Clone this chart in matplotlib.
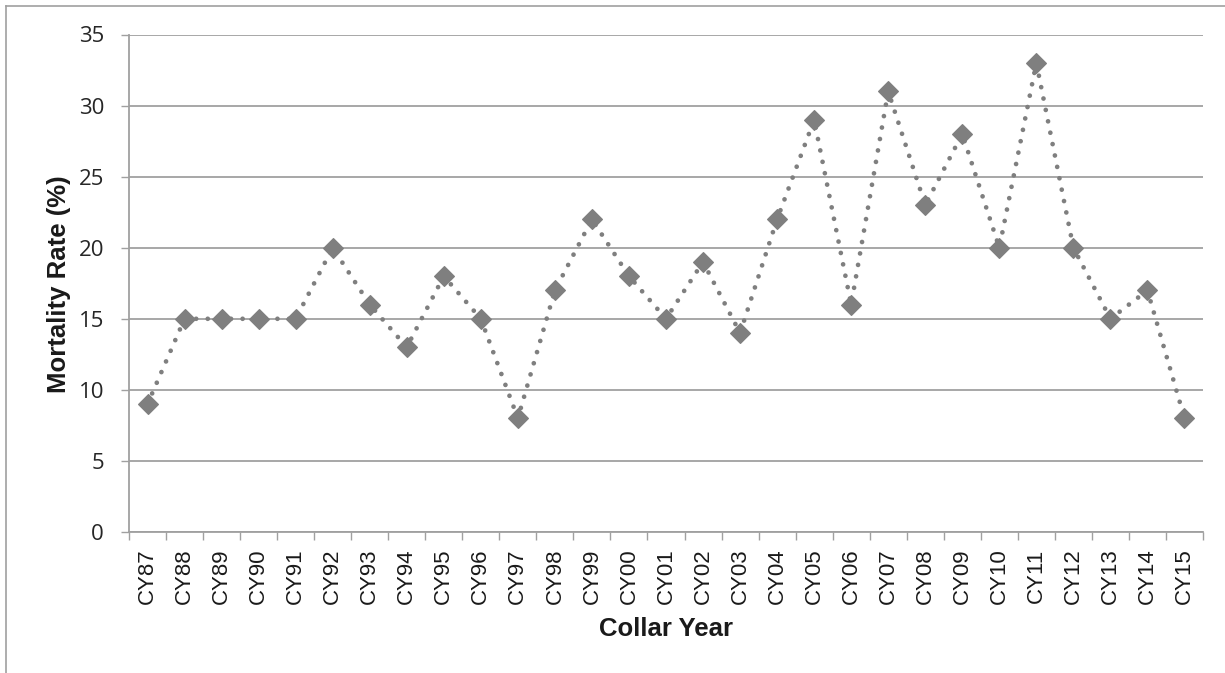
import matplotlib
matplotlib.use("Agg")
import matplotlib.pyplot as plt
from matplotlib import font_manager
from matplotlib.lines import Line2D

years = ["CY87", "CY88", "CY89", "CY90", "CY91", "CY92", "CY93", "CY94", "CY95", "CY96",
         "CY97", "CY98", "CY99", "CY00", "CY01", "CY02", "CY03", "CY04", "CY05", "CY06",
         "CY07", "CY08", "CY09", "CY10", "CY11", "CY12", "CY13", "CY14", "CY15"]
mortality = [9, 15, 15, 15, 15, 20, 16, 13, 18, 15,
             8, 17, 22, 18, 15, 19, 14, 22, 29, 16,
             31, 23, 28, 20, 33, 20, 15, 17, 8]
y_ticks = [0, 5, 10, 15, 20, 25, 30, 35]

W, H = 1225, 673
fig = plt.figure(figsize=(W / 100, H / 100), dpi=100)
fig.patch.set_facecolor("white")

names = {f.name for f in font_manager.fontManager.ttflist}
if "Liberation Sans Narrow" in names:
    xfont, xsize = "Liberation Sans Narrow", 18
else:
    xfont, xsize = "Liberation Sans", 16

left, right = 129 / W, 1203 / W
bottom, top = 1 - 532 / H, 1 - 34.5 / H
ax = fig.add_axes([left, bottom, right - left, top - bottom])

grid_c = "#a0a0a0"
x = list(range(len(years)))
ax.plot(x, mortality, color="#7f7f7f", lw=3.4, linestyle=(0, (0.01, 2.45)),
        dash_capstyle="round", zorder=3)
ax.plot(x, mortality, linestyle="none", marker="D", ms=9.8, mfc="#7f7f7f",
        mec="#7f7f7f", mew=0.8, zorder=4)

ax.set_xlim(-0.5, len(years) - 0.5)
ax.set_ylim(0, 35)
ax.set_yticks(y_ticks)
ax.set_yticklabels([str(v) for v in y_ticks], fontfamily="Open Sans", fontsize=16,
                   color="#262626")
ax.yaxis.grid(True, color=grid_c, lw=1.3)
ax.set_axisbelow(True)

ax.set_xticks([i - 0.5 for i in range(len(years) + 1)])
ax.set_xticklabels([])
ax.set_xticks(x, minor=True)
ax.set_xticklabels(years, minor=True, rotation=90, fontfamily=xfont, fontsize=xsize,
                   color="#1a1a1a")
ax.tick_params(axis="x", which="major", length=5.5, width=1.0, color=grid_c)
ax.tick_params(axis="x", which="minor", length=0, pad=12)
ax.tick_params(axis="y", length=6, width=1.0, color=grid_c, pad=12)

for s in ["top", "right"]:
    ax.spines[s].set_visible(False)
for s in ["left", "bottom"]:
    ax.spines[s].set_color(grid_c)
    ax.spines[s].set_linewidth(1.3)

fig.text(59 / W, 1 - 284 / H, "Mortality Rate (%)", rotation=90, ha="center", va="center",
         fontfamily="Liberation Sans", fontweight="bold", fontsize=18.5, color="#1a1a1a")
fig.text(666 / W, 1 - 636 / H, "Collar Year", ha="center", va="baseline",
         fontfamily="Liberation Sans", fontweight="bold", fontsize=18.5, color="#1a1a1a")

fx = 5.7 / W
fy = 1 - 5.7 / H
fig.add_artist(Line2D([fx, fx], [0, fy], transform=fig.transFigure, color="#a0a0a0", lw=1.2))
fig.add_artist(Line2D([fx, 1], [fy, fy], transform=fig.transFigure, color="#a0a0a0", lw=1.2))

fig.savefig("out.png", dpi=100)
